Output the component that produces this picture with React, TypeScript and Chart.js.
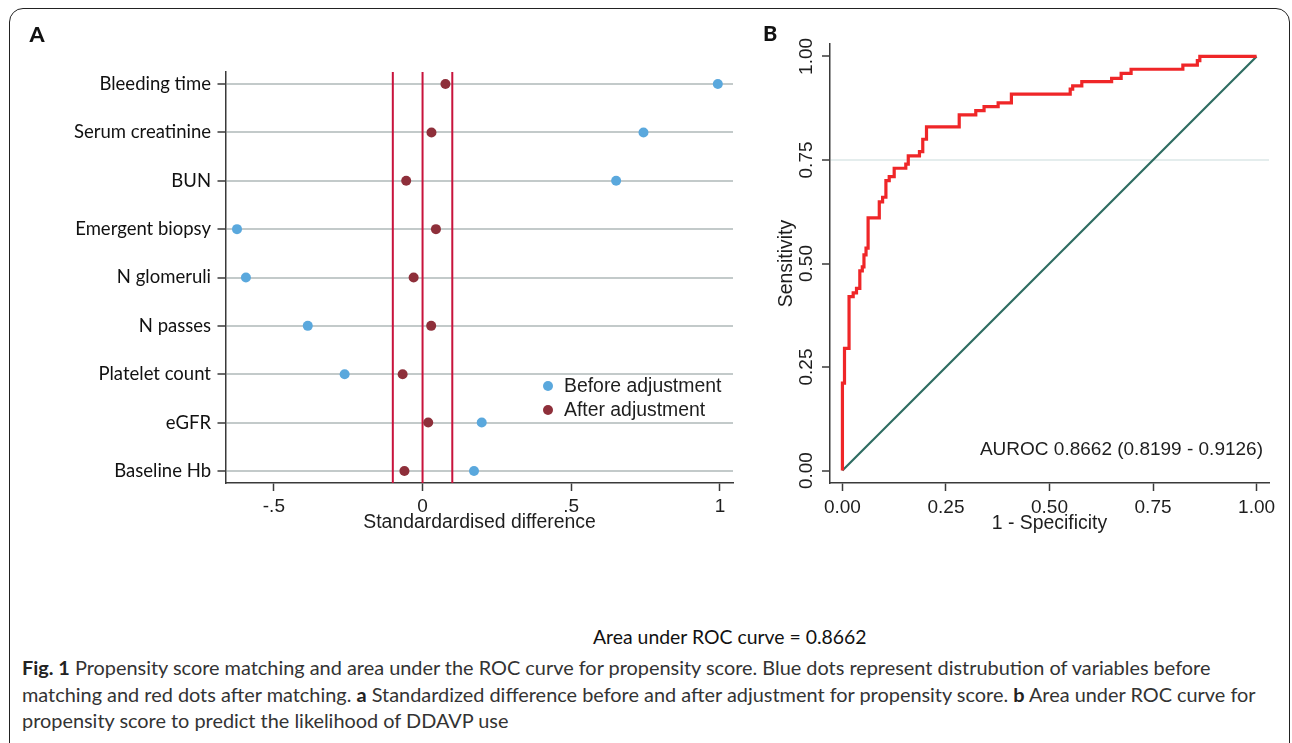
import React, { useEffect, useRef } from "react";
import { Chart, registerables } from "chart.js";

Chart.register(...registerables);

// ---------------- data (panel A) ----------------
const categories = [
  "Bleeding time",
  "Serum creatinine",
  "BUN",
  "Emergent biopsy",
  "N glomeruli",
  "N passes",
  "Platelet count",
  "eGFR",
  "Baseline Hb",
];
const beforeAdjustment = [0.993, 0.743, 0.651, -0.624, -0.594, -0.386, -0.262, 0.199, 0.173];
const afterAdjustment = [0.077, 0.03, -0.055, 0.045, -0.03, 0.029, -0.067, 0.019, -0.061];
const thresholdLines = [-0.1, 0, 0.1];
const stdDiffTicks = [-0.5, 0, 0.5, 1];
const stdDiffRange = [-0.661, 1.044];
const rowRange = [0.75, 9.25];
const legendLabels = ["Before adjustment", "After adjustment"];

// ---------------- data (panel B) ----------------
const rocFpr = [
  0, 0, 0.005, 0.016, 0.026, 0.034, 0.042, 0.048, 0.052, 0.057, 0.062, 0.089, 0.097, 0.105,
  0.113, 0.125, 0.153, 0.159, 0.186, 0.194, 0.203, 0.282, 0.322, 0.342, 0.376, 0.408, 0.55,
  0.556, 0.578, 0.65, 0.673, 0.697, 0.822, 0.857, 0.863, 1.0,
];
const rocTpr = [
  0, 0.211, 0.295, 0.42, 0.429, 0.44, 0.482, 0.492, 0.521, 0.537, 0.61, 0.649, 0.66, 0.7, 0.71,
  0.73, 0.74, 0.76, 0.77, 0.8, 0.83, 0.859, 0.869, 0.879, 0.888, 0.909, 0.921, 0.929, 0.939,
  0.947, 0.959, 0.969, 0.979, 0.99, 1.0, 1.0,
];
const chanceFpr = [0, 1];
const chanceTpr = [0, 1];
const rocTicks = [0, 0.25, 0.5, 0.75, 1];
const rocRange = [-0.03, 1.03];
const rocRefLine = 0.75;
const aurocText = "AUROC 0.8662 (0.8199 - 0.9126)";
const areaText = "Area under ROC curve = 0.8662";

// ---------------- styles ----------------
const ARIAL = "'Liberation Sans', Arial, sans-serif";
const MYRIAD = "Lato, 'Open Sans', sans-serif";
const AXIS = "#3a3a3a";
const TEXT = "#1e1e1e";
const BLUE = "#5aa8dd";
const DARKRED = "#8e2f3a";
const CRIMSON = "#c8133c";
const ROWGRAY = "#c3caca";
const ROCRED = "#ef2628";
const TEAL = "#2f6d62";
const REFGRAY = "#e4eded";

const fmtStd = (v: number) => {
  if (v === 0) return "0";
  const s = String(v);
  return s.replace(/^(-?)0\./, "$1.");
};

function useChartA(ref: React.RefObject<HTMLCanvasElement>) {
  useEffect(() => {
    if (!ref.current) return;
    const chart = new Chart(ref.current, {
      type: "scatter",
      data: {
        datasets: [
          {
            label: legendLabels[0],
            data: categories.map((_, i) => ({ x: beforeAdjustment[i], y: i + 1 })),
            backgroundColor: BLUE,
            borderWidth: 0,
            pointRadius: 5,
            order: 1,
          },
          {
            label: legendLabels[1],
            data: categories.map((_, i) => ({ x: afterAdjustment[i], y: i + 1 })),
            backgroundColor: DARKRED,
            borderWidth: 0,
            pointRadius: 5,
            order: 0,
          },
          ...thresholdLines.map((v) => ({
            label: "threshold " + v,
            data: [
              { x: v, y: rowRange[0] },
              { x: v, y: rowRange[1] },
            ],
            showLine: true,
            borderColor: CRIMSON,
            borderWidth: 2,
            pointRadius: 0,
            order: 5,
          })),
        ],
      },
      options: {
        animation: false,
        responsive: false,
        events: [],
        layout: { padding: { left: 0, top: 72, right: 27, bottom: 17 } },
        plugins: { legend: { display: false }, tooltip: { enabled: false } },
        scales: {
          x: {
            type: "linear",
            min: stdDiffRange[0],
            max: stdDiffRange[1],
            afterBuildTicks: (s: any) => {
              s.ticks = stdDiffTicks.map((v) => ({ value: v }));
            },
            afterFit: (s: any) => {
              s.height = 60;
            },
            ticks: {
              callback: (v: any) => fmtStd(Number(v)),
              font: { family: ARIAL, size: 19 },
              color: TEXT,
              padding: 4,
              autoSkip: false,
              maxRotation: 0,
            },
            grid: { drawOnChartArea: false, drawTicks: true, tickLength: 8, tickColor: AXIS, tickWidth: 1.5 },
            border: { display: true, color: AXIS, width: 1.5 },
            title: {
              display: true,
              text: "Standardardised difference",
              font: { family: ARIAL, size: 19.4 },
              color: TEXT,
              padding: { top: 0, bottom: 8.5 },
            },
          },
          y: {
            type: "linear",
            reverse: true,
            min: rowRange[0],
            max: rowRange[1],
            afterBuildTicks: (s: any) => {
              s.ticks = categories.map((_, i) => ({ value: i + 1 }));
            },
            afterFit: (s: any) => {
              s.width = 226;
            },
            ticks: {
              callback: (v: any) => categories[Math.round(Number(v)) - 1],
              font: { family: MYRIAD, size: 18.5 },
              color: "#111",
              padding: 6.5,
              autoSkip: false,
            },
            grid: {
              color: ROWGRAY,
              lineWidth: 2,
              drawTicks: true,
              tickLength: 8.5,
              tickColor: AXIS,
              tickWidth: 1.5,
            },
            border: { display: true, color: AXIS, width: 1.5 },
          },
        },
      } as any,
    });
    return () => chart.destroy();
  }, []);
}

function useChartB(ref: React.RefObject<HTMLCanvasElement>) {
  useEffect(() => {
    if (!ref.current) return;
    const chart = new Chart(ref.current, {
      type: "scatter",
      data: {
        datasets: [
          {
            label: "ROC",
            data: rocFpr.map((x, i) => ({ x, y: rocTpr[i] })),
            showLine: true,
            stepped: true,
            borderColor: ROCRED,
            borderWidth: 3.2,
            borderJoinStyle: "miter",
            borderCapStyle: "butt",
            pointRadius: 0,
            order: 0,
          },
          {
            label: "Reference",
            data: chanceFpr.map((x, i) => ({ x, y: chanceTpr[i] })),
            showLine: true,
            borderColor: TEAL,
            borderWidth: 2.2,
            pointRadius: 0,
            order: 1,
          },
        ],
      },
      options: {
        animation: false,
        responsive: false,
        events: [],
        layout: { padding: { left: 0, top: 44, right: 23, bottom: 17 } },
        plugins: { legend: { display: false }, tooltip: { enabled: false } },
        scales: {
          x: {
            type: "linear",
            min: rocRange[0],
            max: rocRange[1],
            afterBuildTicks: (s: any) => {
              s.ticks = rocTicks.map((v) => ({ value: v }));
            },
            afterFit: (s: any) => {
              s.height = 60;
            },
            ticks: {
              callback: (v: any) => Number(v).toFixed(2),
              font: { family: ARIAL, size: 19 },
              color: TEXT,
              padding: 5,
              autoSkip: false,
              maxRotation: 0,
            },
            grid: { drawOnChartArea: false, drawTicks: true, tickLength: 8, tickColor: AXIS, tickWidth: 1.5 },
            border: { display: true, color: AXIS, width: 1.5 },
            title: {
              display: true,
              text: "1 - Specificity",
              font: { family: ARIAL, size: 19.4 },
              color: TEXT,
              padding: { top: 0, bottom: 7.5 },
            },
          },
          y: {
            type: "linear",
            min: rocRange[0],
            max: rocRange[1],
            afterBuildTicks: (s: any) => {
              s.ticks = rocTicks.map((v) => ({ value: v }));
            },
            afterFit: (s: any) => {
              s.width = 70;
            },
            ticks: {
              callback: (v: any) => Number(v).toFixed(2),
              font: { family: ARIAL, size: 19 },
              color: TEXT,
              padding: -3,
              minRotation: 90,
              maxRotation: 90,
              crossAlign: "center",
              autoSkip: false,
            },
            grid: {
              color: (ctx: any) =>
                ctx.tick && Math.abs(ctx.tick.value - rocRefLine) < 1e-9 ? REFGRAY : "rgba(0,0,0,0)",
              lineWidth: 2,
              drawTicks: true,
              tickLength: 8,
              tickColor: AXIS,
              tickWidth: 1.5,
            },
            border: { display: true, color: AXIS, width: 1.5 },
            title: {
              display: true,
              text: "Sensitivity",
              font: { family: ARIAL, size: 19.4 },
              color: TEXT,
              padding: { top: 15, bottom: 0 },
            },
          },
        },
      } as any,
    });
    return () => chart.destroy();
  }, []);
}

const abs = (left: number, centerY: number, size: number, extra: React.CSSProperties = {}): React.CSSProperties => ({
  position: "absolute",
  left,
  top: centerY - size * 0.75,
  height: size * 1.5,
  lineHeight: `${size * 1.5}px`,
  fontSize: size,
  whiteSpace: "nowrap",
  margin: 0,
  ...extra,
});

export default function App() {
  const refA = useRef<HTMLCanvasElement>(null);
  const refB = useRef<HTMLCanvasElement>(null);
  useChartA(refA);
  useChartB(refB);

  const dot = (cx: number, cy: number, color: string): React.CSSProperties => ({
    position: "absolute",
    left: cx - 5,
    top: cy - 5,
    width: 10,
    height: 10,
    borderRadius: "50%",
    background: color,
  });

  return (
    <div
      style={{
        position: "fixed",
        left: 0,
        top: 0,
        width: 1292,
        height: 743,
        overflow: "hidden",
        background: "#fff",
      }}
    >
      <div
        style={{
          position: "absolute",
          left: 9,
          top: 8,
          width: 1281,
          height: 780,
          boxSizing: "border-box",
          border: "1.5px solid #222",
          borderRadius: 14,
        }}
      />
      <canvas ref={refA} width={760} height={560} style={{ position: "absolute", left: 0, top: 0 }} />
      <canvas ref={refB} width={532} height={560} style={{ position: "absolute", left: 760, top: 0 }} />

      <div style={abs(29.5, 34.2, 21.5, { fontFamily: MYRIAD, fontWeight: 900, color: "#111" })}>A</div>
      <div style={abs(763, 33.6, 21.5, { fontFamily: MYRIAD, fontWeight: 900, color: "#111" })}>B</div>

      <div style={dot(547.7, 385.7, BLUE)} />
      <div style={dot(547.7, 410, DARKRED)} />
      <div style={abs(564, 385.5, 19.4, { fontFamily: ARIAL, color: TEXT })}>{legendLabels[0]}</div>
      <div style={abs(564, 410, 19.4, { fontFamily: ARIAL, color: TEXT })}>{legendLabels[1]}</div>

      <div style={abs(863, 449.5, 19, { fontFamily: ARIAL, color: TEXT, width: 400, textAlign: "right" })}>
        {aurocText}
      </div>

      <div style={abs(593, 637, 19.4, { fontFamily: MYRIAD, color: "#111" })}>{areaText}</div>

      <div style={abs(22, 668, 19.9, { fontFamily: MYRIAD, color: "#333" })}>
        <b style={{ color: "#222" }}>Fig. 1</b> Propensity score matching and area under the ROC curve for propensity
        score. Blue dots represent distrubution of variables before
      </div>
      <div style={abs(22, 695, 19.9, { fontFamily: MYRIAD, color: "#333" })}>
        matching and red dots after matching. <b style={{ color: "#222" }}>a</b> Standardized difference before and
        after adjustment for propensity score. <b style={{ color: "#222" }}>b</b> Area under ROC curve for
      </div>
      <div style={abs(22, 721, 19.9, { fontFamily: MYRIAD, color: "#333" })}>
        propensity score to predict the likelihood of DDAVP use
      </div>
    </div>
  );
}
